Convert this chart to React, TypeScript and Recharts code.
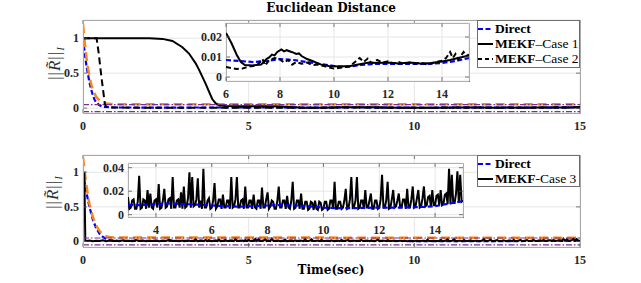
import { CartesianGrid, Line, LineChart, XAxis, YAxis } from "recharts";

type Pt = [number, number];
type Box = { x: number; y: number; w: number; h: number };

// ---- data ----
const xTicksMain = [0, 5, 10, 15];
const yTicksMain = [0, 0.5, 1];
const xTicksTopInset = [6, 8, 10, 12, 14];
const yTicksTopInset = [0, 0.01, 0.02];
const xTicksBotInset = [4, 6, 8, 10, 12, 14];
const yTicksBotInset = [0, 0.02, 0.04];

const boundLevels = [0.05, -0.05];

// top panel
const topOrange: Pt[] = [
  [0, 1.2], [0.05, 0.95], [0.1, 0.74], [0.15, 0.57], [0.2, 0.44], [0.25, 0.34], [0.3, 0.26],
  [0.4, 0.16], [0.5, 0.11], [0.6, 0.08], [0.7, 0.066], [0.85, 0.058], [1, 0.055], [15, 0.055],
];
const topDirectEarly: Pt[] = [
  [0, 1], [0.05, 0.8], [0.1, 0.62], [0.15, 0.48], [0.2, 0.36], [0.25, 0.26], [0.3, 0.18],
  [0.35, 0.12], [0.4, 0.08], [0.5, 0.04], [0.6, 0.02], [0.8, 0.012], [1, 0.009], [2, 0.008],
  [3, 0.008], [4, 0.009], [5, 0.009], [5.5, 0.0088],
];
// t = 6, 6.5, ..., 15
const topDirectInset = [
  0.0085, 0.008, 0.0075, 0.008, 0.009, 0.0085, 0.0075, 0.0065, 0.0055, 0.005, 0.006, 0.0065,
  0.0065, 0.0065, 0.0065, 0.0065, 0.007, 0.008, 0.0095,
];
const topCase1Early: Pt[] = [
  [0, 1], [1, 1], [2, 0.998], [2.4, 0.99], [2.7, 0.96], [3, 0.87], [3.2, 0.78], [3.4, 0.64],
  [3.5, 0.55], [3.6, 0.45], [3.7, 0.35], [3.8, 0.24], [3.9, 0.13], [4, 0.07], [4.1, 0.04],
  [4.3, 0.03], [5, 0.027], [5.5, 0.025],
];
const topCase1Inset: Pt[] = [
  [6, 0.022], [6.2, 0.017], [6.4, 0.011], [6.55, 0.0075], [6.7, 0.006], [7, 0.0058], [7.3, 0.0062],
  [7.5, 0.009], [7.6, 0.0098], [7.7, 0.0112], [7.8, 0.0108], [7.9, 0.0125], [8.05, 0.0138],
  [8.15, 0.0128], [8.25, 0.0134], [8.4, 0.0126], [8.5, 0.0122], [8.6, 0.0115], [8.7, 0.0118],
  [8.8, 0.0105], [9, 0.009], [9.2, 0.008], [9.5, 0.0063], [9.8, 0.0055], [10.2, 0.0052],
  [10.6, 0.0055], [11, 0.0065], [11.3, 0.0072], [11.6, 0.007], [12, 0.0072], [12.4, 0.0068],
  [12.8, 0.0072], [13.2, 0.0068], [13.6, 0.007], [14, 0.0078], [14.3, 0.0085], [14.6, 0.0095],
  [15, 0.0108],
];
const topCase2Early: Pt[] = [
  [0, 1], [0.41, 1], [0.47, 0.8], [0.53, 0.55], [0.6, 0.28], [0.66, 0.06], [0.7, 0.02],
  [0.8, 0.01], [1.5, 0.006], [3, 0.006], [4.5, 0.006], [5.5, 0.005],
];
const topCase2Inset: Pt[] = [
  [6, 0.005], [6.2, 0.0045], [6.4, 0.004], [6.6, 0.0042], [6.8, 0.005], [7, 0.0055], [7.2, 0.0065],
  [7.35, 0.009], [7.45, 0.0058], [7.6, 0.0085], [7.8, 0.0095], [8, 0.0088], [8.15, 0.0072],
  [8.3, 0.0085], [8.45, 0.0062], [8.6, 0.0075], [8.8, 0.0066], [9, 0.0072], [9.2, 0.006],
  [9.4, 0.0062], [9.7, 0.0052], [10, 0.0042], [10.3, 0.0048], [10.6, 0.0055], [10.8, 0.0078],
  [10.95, 0.0095], [11.1, 0.0075], [11.25, 0.0092], [11.4, 0.0068], [11.6, 0.0085], [11.8, 0.0072],
  [12, 0.0078], [12.2, 0.0068], [12.4, 0.0075], [12.6, 0.0065], [12.8, 0.0072], [13, 0.0066],
  [13.2, 0.0072], [13.4, 0.0064], [13.6, 0.0068], [13.8, 0.0075], [14, 0.0082], [14.15, 0.0095],
  [14.3, 0.0125], [14.4, 0.0095], [14.5, 0.0115], [14.6, 0.0088], [14.7, 0.0105], [14.8, 0.0125],
  [14.9, 0.0105], [15, 0.0112],
];

// bottom panel
const botOrange: Pt[] = [
  [0, 1.22], [0.05, 1.0], [0.1, 0.82], [0.15, 0.66], [0.2, 0.53], [0.3, 0.35], [0.4, 0.23],
  [0.5, 0.15], [0.6, 0.1], [0.7, 0.075], [0.8, 0.063], [1, 0.056], [15, 0.055],
];
const botDirectEarly: Pt[] = [
  [0, 1], [0.05, 0.85], [0.1, 0.72], [0.15, 0.6], [0.2, 0.49], [0.3, 0.31], [0.4, 0.19],
  [0.5, 0.11], [0.6, 0.065], [0.7, 0.035], [0.8, 0.02], [1, 0.011], [1.5, 0.008], [2, 0.008],
  [2.5, 0.008],
];
// t = 3, 3.5, ..., 15
const botDirectInset = [
  0.008, 0.0082, 0.009, 0.0095, 0.009, 0.0085, 0.0078, 0.0072, 0.0068, 0.0072, 0.0078, 0.0082,
  0.0078, 0.007, 0.006, 0.0055, 0.0055, 0.0058, 0.006, 0.006, 0.0062, 0.0065, 0.0072, 0.0095,
  0.0115,
];
const botCase3Start: Pt[] = [[0, 1], [0.04, 0.98], [0.07, 0.01]];
// t = 0.1, 0.2, ..., 2.9
const botCase3Early = [
  0.006, 0.014, 0.005, 0.012, 0.006, 0.018, 0.005, 0.013, 0.007, 0.011, 0.005, 0.016, 0.006,
  0.012, 0.005, 0.02, 0.006, 0.013, 0.005, 0.012, 0.007, 0.015, 0.005, 0.012, 0.006, 0.024,
  0.006, 0.012, 0.005,
];
// t = 3.00, 3.05, ..., 15.00 (one row = 0.5 s)
const botCase3Inset = [
  0.015, 0.005, 0.006, 0.012, 0.013, 0.005, 0.005, 0.011, 0.033, 0.005,
  0.006, 0.013, 0.012, 0.005, 0.021, 0.006, 0.018, 0.006, 0.005, 0.012,
  0.013, 0.006, 0.026, 0.005, 0.006, 0.012, 0.022, 0.006, 0.007, 0.013,
  0.014, 0.005, 0.032, 0.006, 0.006, 0.012, 0.013, 0.006, 0.019, 0.005,
  0.024, 0.006, 0.007, 0.014, 0.036, 0.006, 0.032, 0.007, 0.008, 0.013,
  0.031, 0.006, 0.012, 0.005, 0.039, 0.006, 0.006, 0.012, 0.014, 0.005,
  0.006, 0.012, 0.027, 0.005, 0.007, 0.013, 0.013, 0.005, 0.017, 0.006,
  0.006, 0.012, 0.012, 0.005, 0.032, 0.006, 0.007, 0.013, 0.032, 0.006,
  0.006, 0.012, 0.013, 0.005, 0.024, 0.006, 0.006, 0.012, 0.012, 0.005,
  0.017, 0.006, 0.005, 0.012, 0.012, 0.005, 0.023, 0.006, 0.006, 0.013,
  0.019, 0.005, 0.007, 0.012, 0.011, 0.005, 0.005, 0.012, 0.024, 0.006,
  0.006, 0.012, 0.012, 0.005, 0.016, 0.006, 0.005, 0.012, 0.028, 0.005,
  0.006, 0.012, 0.012, 0.005, 0.018, 0.005, 0.005, 0.011, 0.011, 0.004,
  0.005, 0.011, 0.010, 0.004, 0.012, 0.005, 0.004, 0.011, 0.010, 0.004,
  0.005, 0.011, 0.011, 0.004, 0.005, 0.012, 0.012, 0.005, 0.028, 0.005,
  0.005, 0.011, 0.011, 0.005, 0.006, 0.012, 0.022, 0.005, 0.006, 0.013,
  0.032, 0.006, 0.007, 0.012, 0.032, 0.005, 0.006, 0.012, 0.012, 0.005,
  0.021, 0.006, 0.006, 0.012, 0.018, 0.005, 0.005, 0.012, 0.012, 0.005,
  0.006, 0.013, 0.034, 0.006, 0.006, 0.012, 0.028, 0.005, 0.006, 0.013,
  0.021, 0.006, 0.007, 0.012, 0.018, 0.006, 0.006, 0.013, 0.013, 0.005,
  0.022, 0.006, 0.006, 0.013, 0.024, 0.006, 0.007, 0.014, 0.021, 0.006,
  0.007, 0.014, 0.024, 0.007, 0.008, 0.015, 0.016, 0.007, 0.021, 0.008,
  0.008, 0.016, 0.017, 0.008, 0.021, 0.008, 0.009, 0.017, 0.018, 0.009,
  0.039, 0.009, 0.034, 0.01, 0.010, 0.018, 0.037, 0.01, 0.034, 0.011,
  0.012,
];

// ---- helpers ----
const toRows = (pts: Pt[]) => pts.map(([t, v]) => ({ t, v }));
const onGrid = (vals: number[], t0: number, dt: number) =>
  vals.map((v, i) => ({ t: +(t0 + i * dt).toFixed(2), v }));
const flat = (v: number) => [{ t: 0, v }, { t: 15, v }];

const BLUE = "#0000ff";
const ORANGE = "#f7871f";
const PURPLE = "#7e2f8e";
const tickFont = "'Liberation Serif', 'Times New Roman', serif";
const labelFont = "'DejaVu Serif', serif";
const tickColor = "#262626";
const tickText = { fontFamily: tickFont, fontWeight: 700, fontSize: 12 };

type Series = { key: string; data: { t: number; v: number }[]; color: string; width: number; dash?: string };

const XTick = (p: any) => {
  const { x, y, payload, h } = p;
  return (
    <g>
      <line x1={x} x2={x} y1={y} y2={y - 4} stroke="#555" strokeWidth={0.8} />
      <line x1={x} x2={x} y1={y - h} y2={y - h + 4} stroke="#555" strokeWidth={0.8} />
      <text x={x} y={y + 16.5} textAnchor="middle" style={tickText} fill={tickColor}>
        {payload.value}
      </text>
    </g>
  );
};

const YTick = (p: any) => {
  const { x, y, payload, w } = p;
  return (
    <g>
      <line x1={x} x2={x + 4} y1={y} y2={y} stroke="#555" strokeWidth={0.8} />
      <line x1={x + w} x2={x + w - 4} y1={y} y2={y} stroke="#555" strokeWidth={0.8} />
      <text x={x - 4} y={y + 4} textAnchor="end" style={tickText} fill={tickColor}>
        {payload.value}
      </text>
    </g>
  );
};

function Plot({ box, xDomain, yDomain, xTicks, yTicks, series }: {
  box: Box; xDomain: [number, number]; yDomain: [number, number]; xTicks: number[]; yTicks: number[]; series: Series[];
}) {
  const ML = 60, MT = 10, MR = 20, MB = 40;
  return (
    <div style={{ position: "absolute", left: box.x - ML, top: box.y - MT }}>
      <LineChart width={box.w + ML + MR} height={box.h + MT + MB} margin={{ top: MT, right: MR, left: 0, bottom: 0 }}>
        <CartesianGrid stroke="#e6e6e6" strokeWidth={1} />
        <XAxis type="number" dataKey="t" domain={xDomain} ticks={xTicks} allowDataOverflow interval={0}
          axisLine={false} tickLine={false} tickSize={0} tickMargin={0} height={MB}
          tick={(p: any) => <XTick {...p} h={box.h} />} />
        <YAxis type="number" domain={yDomain} ticks={yTicks} allowDataOverflow interval={0}
          axisLine={false} tickLine={false} tickSize={0} tickMargin={0} width={ML}
          tick={(p: any) => <YTick {...p} w={box.w} />} />
        {series.map((s) => (
          <Line key={s.key} data={s.data} dataKey="v" type="linear" stroke={s.color} strokeWidth={s.width}
            strokeDasharray={s.dash} dot={false} activeDot={false} isAnimationActive={false} />
        ))}
      </LineChart>
    </div>
  );
}

const Frame = ({ box, color, bg }: { box: Box; color: string; bg?: boolean }) => (
  <div style={{
    position: "absolute", left: box.x - 0.5, top: box.y - 0.5, width: box.w + 1, height: box.h + 1,
    border: `1px solid ${color}`, boxSizing: "border-box", background: bg ? "#fff" : "transparent",
  }} />
);

type LegendItem = { color: string; dash?: string; name: string; rest: string };

const LegendBox = ({ left, top, width, height, items }: { left: number; top: number; width: number; height: number; items: LegendItem[] }) => (
  <div style={{
    position: "absolute", left, top, width, height, background: "#fff", border: "1px solid #6e6e6e",
    boxSizing: "border-box", fontFamily: tickFont, fontSize: 13.5, color: "#000", paddingTop: 0,
  }}>
    {items.map((it) => (
      <div key={it.name + it.rest} style={{ display: "flex", alignItems: "center", height: 15.3, whiteSpace: "nowrap" }}>
        <svg width={17} height={6} style={{ flex: "none" }}>
          <line x1={0} x2={15} y1={3} y2={3} stroke={it.color} strokeWidth={2} strokeDasharray={it.dash} />
        </svg>
        <span><b>{it.name}</b>{it.rest}</span>
      </div>
    ))}
  </div>
);

const YLabel = ({ cx, cy }: { cx: number; cy: number }) => (
  <div style={{
    position: "absolute", left: cx - 30, top: cy - 11, width: 60, height: 22, lineHeight: "22px",
    transform: "rotate(-90deg)", textAlign: "center", fontFamily: tickFont, fontSize: 17,
    letterSpacing: 1, color: "#333", whiteSpace: "nowrap",
  }}>
    ||<i>R&#771;</i>||<sub style={{ fontSize: 11 }}><i>I</i></sub>
  </div>
);

const topMain: Box = { x: 83, y: 20, w: 497, h: 93 };
const topInset: Box = { x: 226, y: 23, w: 243, h: 58 };
const botMain: Box = { x: 83, y: 155, w: 497, h: 92 };
const botInset: Box = { x: 128, y: 163, w: 335, h: 54 };

export default function App() {
  const topDirect = [...toRows(topDirectEarly), ...onGrid(topDirectInset, 6, 0.5)];
  const topCase1 = [...toRows(topCase1Early), ...toRows(topCase1Inset)];
  const topCase2 = [...toRows(topCase2Early), ...toRows(topCase2Inset)];
  const botDirect = [...toRows(botDirectEarly), ...onGrid(botDirectInset, 3, 0.5)];
  const botCase3 = [...toRows(botCase3Start), ...onGrid(botCase3Early, 0.1, 0.1), ...onGrid(botCase3Inset, 3, 0.05)];

  const bounds = (tag: string): Series[] =>
    boundLevels.map((b, i) => ({ key: `${tag}-b${i}`, data: flat(b), color: PURPLE, width: 1.2, dash: "6 2 1.5 2" }));

  const topMainSeries: Series[] = [
    { key: "dir", data: topDirect, color: BLUE, width: 2.2, dash: "5 2.5" },
    { key: "or", data: toRows(topOrange), color: ORANGE, width: 2.5, dash: "9 5" },
    { key: "c1", data: topCase1, color: "#000", width: 2 },
    { key: "c2", data: topCase2, color: "#000", width: 2, dash: "7 4" },
    ...bounds("t"),
  ];
  const topInsetSeries: Series[] = [
    { key: "dir", data: onGrid(topDirectInset, 6, 0.5), color: BLUE, width: 2.2, dash: "5 2.5" },
    { key: "c1", data: toRows(topCase1Inset), color: "#000", width: 2 },
    { key: "c2", data: toRows(topCase2Inset), color: "#000", width: 2, dash: "5 3" },
  ];
  const botMainSeries: Series[] = [
    { key: "dir", data: botDirect, color: BLUE, width: 2.2, dash: "5 2.5" },
    { key: "or", data: toRows(botOrange), color: ORANGE, width: 2.5, dash: "9 5" },
    { key: "c3", data: botCase3, color: "#000", width: 2 },
    ...bounds("b"),
  ];
  const botInsetSeries: Series[] = [
    { key: "c3", data: onGrid(botCase3Inset, 3, 0.05), color: "#000", width: 2 },
    { key: "dir", data: onGrid(botDirectInset, 3, 0.5), color: BLUE, width: 2.2, dash: "5 2.5" },
  ];

  return (
    <div style={{ position: "absolute", left: 0, top: 0, width: 641, height: 283, background: "#fff", overflow: "hidden" }}>
      <div style={{
        position: "absolute", left: 0, top: 1, width: 662, textAlign: "center", fontFamily: labelFont,
        fontWeight: "bold", fontSize: 12, lineHeight: "14px", color: "#000",
      }}>
        Euclidean Distance
      </div>

      <Plot box={topMain} xDomain={[0, 15]} yDomain={[-0.07, 1.26]} xTicks={xTicksMain} yTicks={yTicksMain} series={topMainSeries} />
      <Frame box={topMain} color="#a8a8a8" />
      <Frame box={topInset} color="#7a7a7a" bg />
      <Plot box={topInset} xDomain={[6, 15]} yDomain={[-0.002, 0.027]} xTicks={xTicksTopInset} yTicks={yTicksTopInset} series={topInsetSeries} />
      <LegendBox left={477} top={20} width={103} height={48} items={[
        { color: BLUE, dash: "5 2.5", name: "Direct", rest: "" },
        { color: "#000", name: "MEKF", rest: "\u2013Case 1" },
        { color: "#000", dash: "4 3", name: "MEKF", rest: "\u2013Case 2" },
      ]} />
      <YLabel cx={55} cy={63} />

      <Plot box={botMain} xDomain={[0, 15]} yDomain={[-0.08, 1.25]} xTicks={xTicksMain} yTicks={yTicksMain} series={botMainSeries} />
      <Frame box={botMain} color="#a8a8a8" />
      <Frame box={botInset} color="#7a7a7a" bg />
      <Plot box={botInset} xDomain={[3, 15]} yDomain={[-0.002, 0.044]} xTicks={xTicksBotInset} yTicks={yTicksBotInset} series={botInsetSeries} />
      <LegendBox left={477} top={155} width={103} height={32} items={[
        { color: BLUE, dash: "5 2.5", name: "Direct", rest: "" },
        { color: "#000", name: "MEKF", rest: "-Case 3" },
      ]} />
      <YLabel cx={53} cy={192} />

      <div style={{
        position: "absolute", left: 0, top: 263, width: 662, textAlign: "center", fontFamily: labelFont,
        fontWeight: "bold", fontSize: 12, lineHeight: "14px", color: "#000",
      }}>
        Time(sec)
      </div>
    </div>
  );
}
